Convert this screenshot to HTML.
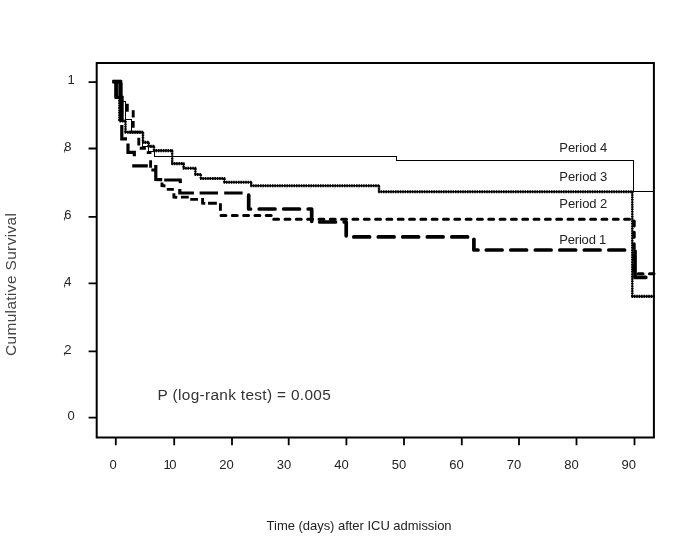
<!DOCTYPE html>
<html><head><meta charset="utf-8"><title>Cumulative Survival</title>
<style>html,body{margin:0;padding:0;background:#fff;width:685px;height:538px;overflow:hidden}</style>
</head><body>
<svg width="685" height="538" viewBox="0 0 685 538" style="position:absolute;left:0;top:0">
<rect x="0" y="0" width="685" height="538" fill="#fff"/>
<g fill="none" stroke="#000">
<path d="M96.7,63 H653.9 V437.6 H96.7 Z" stroke-width="2"/>
<g stroke-width="1.8">
<path d="M88.6,82.2H96.7 M88.6,148.5H96.7 M88.6,216.8H96.7 M88.6,283.3H96.7 M88.6,351.3H96.7 M88.6,417.7H96.7"/>
<path d="M115.8,437.6V445.2 M174.2,437.6V445.2 M232,437.6V445.2 M288.7,437.6V445.2 M346.4,437.6V445.2 M404,437.6V445.2 M461.8,437.6V445.2 M519,437.6V445.2 M576.5,437.6V445.2 M634.5,437.6V445.2"/>
</g>
<!-- Period 4 -->
<path d="M114,81.6 L121,81.6 L121,101.4 L125.6,101.4 L125.6,119.4 L131.6,119.4 L131.6,132.4 L142.6,132.4 L142.6,146.8 L148.4,146.8 L148.4,151 L154.4,151 L154.4,156.5 L396.5,156.5 L396.5,160.5 L633,160.5 L633,191.5 L654,191.5" stroke-width="1" shape-rendering="crispEdges"/>
<!-- Period 3 -->
<path d="M113.2,81.6H121.1 M119.5,121H126.3 M124.7,132.2H143.8 M142.2,142.4H149.4 M147.8,146.4H154.8 M153.2,150.6H173 M171.4,163.6H184.4 M182.8,168.3H196.2 M194.6,174.5H201.6 M200,178.5H225.2 M223.6,182.2H252 M250.4,185.8H379.8 M378.2,191.8H633.1 M631.5,296.4H654.8" stroke-width="1.6"/>
<path d="M113.2,81.6H121.1 M119.5,121H126.3 M124.7,132.2H143.8 M142.2,142.4H149.4 M147.8,146.4H154.8 M153.2,150.6H173 M171.4,163.6H184.4 M182.8,168.3H196.2 M194.6,174.5H201.6 M200,178.5H225.2 M223.6,182.2H252 M250.4,185.8H379.8 M378.2,191.8H633.1 M631.5,296.4H654.8" stroke-width="3.1" stroke-dasharray="1.5 0.9"/>
<path d="M120.3,81.6V121 M125.5,121V132.2 M143,132.2V142.4 M148.6,142.4V146.4 M154,146.4V150.6 M172.2,150.6V163.6 M183.6,163.6V168.3 M195.4,168.3V174.5 M200.8,174.5V178.5 M224.4,178.5V182.2 M251.2,182.2V185.8 M379,185.8V191.8 M632.3,191.8V296.4" stroke-width="1.1"/>
<path d="M120.3,81.6V121 M125.5,121V132.2 M143,132.2V142.4 M148.6,142.4V146.4 M154,146.4V150.6 M172.2,150.6V163.6 M183.6,163.6V168.3 M195.4,168.3V174.5 M200.8,174.5V178.5 M224.4,178.5V182.2 M251.2,182.2V185.8 M379,185.8V191.8 M632.3,191.8V296.4" stroke-width="2.5" stroke-dasharray="1.6 0.8"/>
<!-- dense start -->
<path d="M112.6,81.5H121.5" stroke-width="3.6"/>
<path d="M116.1,81.5V97.6" stroke-width="3.5"/>
<path d="M120.4,83V98" stroke-width="4.2"/>
<path d="M119.9,97.5V121" stroke-width="3.4" stroke-dasharray="1.9 0.5"/>
<path d="M120.8,97.5V121" stroke-width="2"/>
<!-- Period 2 -->
<g stroke-width="3.0" stroke-linecap="round" stroke-linejoin="round">
<path d="M114,81.6 L120.9,81.6 L120.9,97 M127.3,105.2 L127.3,110.4 M133.2,111.6 L133.2,116 M133.2,122.4 L133.2,126.4 M130,132.1 L140,132.1 M138.8,139.2 L138.8,144 M141.2,148.2 L144.4,148.2 M148.2,152.6 L150,152.6 M150.6,161.6 L150.6,166.4 M152.8,170 L155,170 M162,184 L162,185.6 L164,185.8 M168.2,189.4 L172.4,189.4 M173.9,194.8 L173.9,197.2 L175.8,197.3 M182.4,197.1 L187.3,197.1 M191.7,199.4 L196.5,199.4 M202.6,199.4 L202.6,203.2 L203.8,203.3 M209.5,203.3 L215.4,203.3 M220.4,204.6 L220.4,209.4" stroke-width="2.9" stroke-linecap="square" stroke-linejoin="miter"/>
<path d="M219.5,215.4 L271.5,215.4 L271.5,219.3 L634.2,219.3 L634.2,273.7 L654,273.7" stroke-dasharray="4.9 6.42" stroke-dashoffset="-1.5"/>
</g>
<!-- Period 1 -->
<g stroke-width="3.7" stroke-linecap="round" stroke-linejoin="round">
<path d="M114,81.6 L116.1,81.6 L116.1,97.3 L122.1,97.3 L122.1,120.5 M121.8,126.6 L121.8,138.8 L125.4,138.8 M128,145 L128,152.4 L134.3,152.4 L134.3,154.6 M133.8,165.8 L146.2,165.8 M155.8,166.5 L155.8,179.4 L160.6,179.6 M165.8,180 L180.2,180 L180.3,181.6 M179.8,190.6 L179.8,193 L192.3,193 M201.2,193 L216.4,193 M225.8,193 L241,193" stroke-width="3.2" stroke-linecap="square" stroke-linejoin="miter"/>
<path d="M248.7,195 L248.7,209 L311.7,209 L311.7,222 L346.2,222 L346.2,236.9 L473.9,236.9 L473.9,250 L478,250" stroke-dasharray="15.8 8.7"/>
<path d="M486.3,250 L624.6,250" stroke-dasharray="15.8 8.7"/>
<path d="M635,251 L635,277.4 L645.8,277.4"/>
</g>
</g>
<g font-family="'Liberation Sans', Arial, sans-serif" fill="#222">
<g font-size="13">
<text x="67.5" y="84.3">1</text>
<text x="62.7" y="150.7">,<tspan dx="-2">8</tspan></text>
<text x="62.7" y="218.6">,<tspan dx="-2">6</tspan></text>
<text x="62.7" y="285.9">,<tspan dx="-2">4</tspan></text>
<text x="62.7" y="354.2">,<tspan dx="-2">2</tspan></text>
<text x="67.5" y="419.7">0</text>
</g>
<g font-size="13" text-anchor="middle">
<text x="113.1" y="468.5">0</text>
<text x="170" y="468.5" textLength="13.2">10</text>
<text x="226.6" y="468.5">20</text>
<text x="284.1" y="468.5">30</text>
<text x="341.5" y="468.5">40</text>
<text x="399" y="468.5">50</text>
<text x="456.4" y="468.5">60</text>
<text x="513.9" y="468.5">70</text>
<text x="571.4" y="468.5">80</text>
<text x="628.8" y="468.5">90</text>
</g>
<g font-size="13">
<text x="559.3" y="151.8" textLength="48">Period 4</text>
<text x="559.3" y="180.6" textLength="48">Period 3</text>
<text x="559.3" y="208.2" textLength="48">Period 2</text>
<text x="559.3" y="244.1" textLength="47">Period 1</text>
<text x="266.6" y="529.6" textLength="185">Time (days) after ICU admission</text>
</g>
<text x="157.6" y="399.7" font-size="15.4" textLength="173.2" fill="#333">P (log-rank test) = 0.005</text>
<text transform="translate(16.2,356) rotate(-90)" font-size="15.4" textLength="143" fill="#444">Cumulative Survival</text>
</g>
</svg>
</body></html>
